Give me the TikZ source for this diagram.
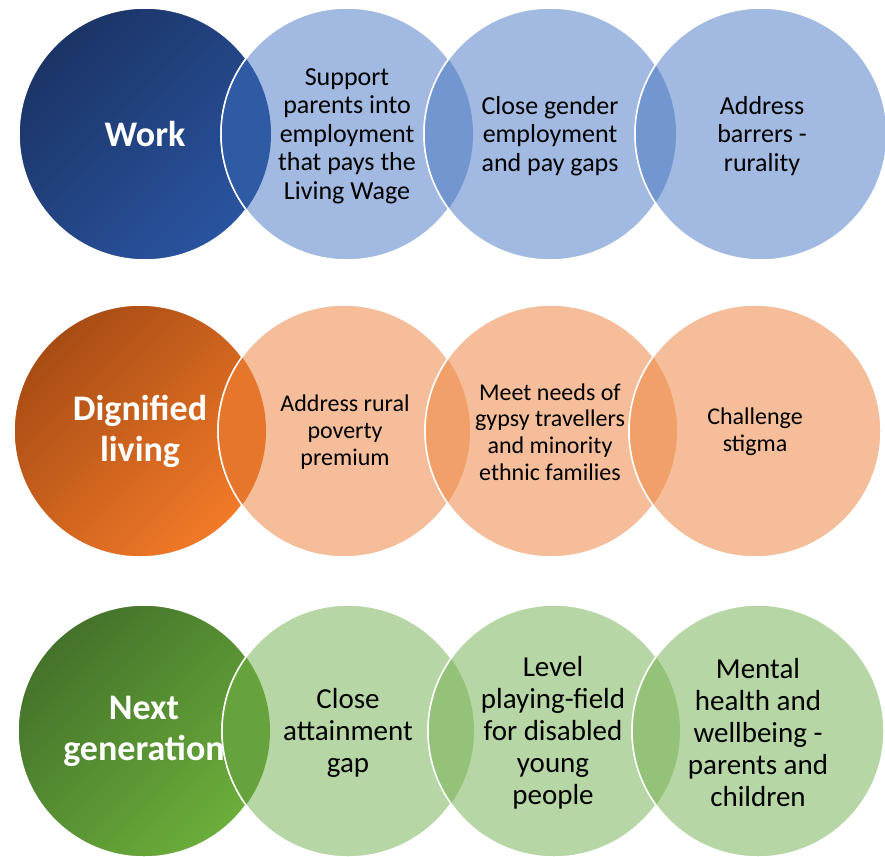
\documentclass[tikz,border=0pt]{standalone}
\usepackage{fontspec}
\setmainfont{Carlito}
\definecolor{bluehubA}{HTML}{1B3466}
\definecolor{bluehubB}{HTML}{2A54A0}
\definecolor{bluelight}{HTML}{A2B9E1}
\definecolor{bluelensA}{HTML}{2F5AA4}
\definecolor{bluelensB}{HTML}{7296D0}
\definecolor{orangehubA}{HTML}{A84C14}
\definecolor{orangehubB}{HTML}{F27A28}
\definecolor{orangelight}{HTML}{F5BD99}
\definecolor{orangelensA}{HTML}{E5762B}
\definecolor{orangelensB}{HTML}{F0A068}
\definecolor{greenhubA}{HTML}{44722A}
\definecolor{greenhubB}{HTML}{6BAE3B}
\definecolor{greenlight}{HTML}{B7D6A5}
\definecolor{greenlensA}{HTML}{67A33C}
\definecolor{greenlensB}{HTML}{94C278}
\begin{document}
\begin{tikzpicture}[x=1pt, y=-1pt,
    disc/.style={circle, minimum size=252pt, inner sep=0pt, draw=white, line width=1.5pt},
    hub/.style 2 args={disc, top color=#1, bottom color=#2, shading angle=45,
        text=white, align=center, font=\fontsize{36}{41}\selectfont\bfseries},
    rim/.style={draw=white, line width=1.5pt},
    txtwork/.style={align=center, font=\fontsize{26}{28.5}\selectfont},
    txtliving/.style={align=center, font=\fontsize{24}{26.7}\selectfont},
    txtnext/.style={align=center, font=\fontsize{29}{32}\selectfont}]
    \useasboundingbox (0, 0) rectangle (885, 856);
    % work
    \node[hub={bluehubA}{bluehubB}] (w1) at (145, 134) {Work};
    \node[disc, fill=bluelight] (w2) at (347, 134) {};
    \begin{scope}
        \clip (w1.center) circle[radius=126pt];
        \fill[bluelensA, rim] (w2.center) circle[radius=126pt];
    \end{scope}
    \node[disc, fill=bluelight] (w3) at (550, 134) {};
    \begin{scope}
        \clip (w2.center) circle[radius=126pt];
        \fill[bluelensB, rim] (w3.center) circle[radius=126pt];
    \end{scope}
    \node[disc, fill=bluelight] (w4) at (761, 134) {};
    \begin{scope}
        \clip (w3.center) circle[radius=126pt];
        \fill[bluelensB, rim] (w4.center) circle[radius=126pt];
    \end{scope}
    \node[txtwork] (w2t) at (347, 136) {Support\\parents into\\employment\\that pays the\\Living Wage};
    \node[txtwork] (w3t) at (550, 136) {Close gender\\employment\\and pay gaps};
    \node[txtwork] (w4t) at (762, 136) {Address\\barrers -\\rurality};
    % dignified living
    \node[hub={orangehubA}{orangehubB}] (d1) at (140, 431) {Dignified\\living};
    \node[disc, fill=orangelight] (d2) at (344, 431) {};
    \begin{scope}
        \clip (d1.center) circle[radius=126pt];
        \fill[orangelensA, rim] (d2.center) circle[radius=126pt];
    \end{scope}
    \node[disc, fill=orangelight] (d3) at (551, 431) {};
    \begin{scope}
        \clip (d2.center) circle[radius=126pt];
        \fill[orangelensB, rim] (d3.center) circle[radius=126pt];
    \end{scope}
    \node[disc, fill=orangelight] (d4) at (755, 431) {};
    \begin{scope}
        \clip (d3.center) circle[radius=126pt];
        \fill[orangelensB, rim] (d4.center) circle[radius=126pt];
    \end{scope}
    \node[txtliving] (d2t) at (345, 432) {Address rural\\poverty\\premium};
    \node[txtliving] (d3t) at (550, 432) {Meet needs of\\gypsy travellers\\and minority\\ethnic families};
    \node[txtliving] (d4t) at (755, 432) {Challenge\\stigma};
    % next generation
    \node[hub={greenhubA}{greenhubB}] (n1) at (144, 731) {Next\\generation};
    \node[disc, fill=greenlight] (n2) at (348, 731) {};
    \begin{scope}
        \clip (n1.center) circle[radius=126pt];
        \fill[greenlensA, rim] (n2.center) circle[radius=126pt];
    \end{scope}
    \node[disc, fill=greenlight] (n3) at (554, 731) {};
    \begin{scope}
        \clip (n2.center) circle[radius=126pt];
        \fill[greenlensB, rim] (n3.center) circle[radius=126pt];
    \end{scope}
    \node[disc, fill=greenlight] (n4) at (758, 731) {};
    \begin{scope}
        \clip (n3.center) circle[radius=126pt];
        \fill[greenlensB, rim] (n4.center) circle[radius=126pt];
    \end{scope}
    \node[txtnext] (n2t) at (348, 733) {Close\\attainment\\gap};
    \node[txtnext] (n3t) at (553, 733) {Level\\playing-field\\for disabled\\young\\people};
    \node[txtnext] (n4t) at (758, 733) {Mental\\health and\\wellbeing -\\parents and\\children};
\end{tikzpicture}
\end{document}
